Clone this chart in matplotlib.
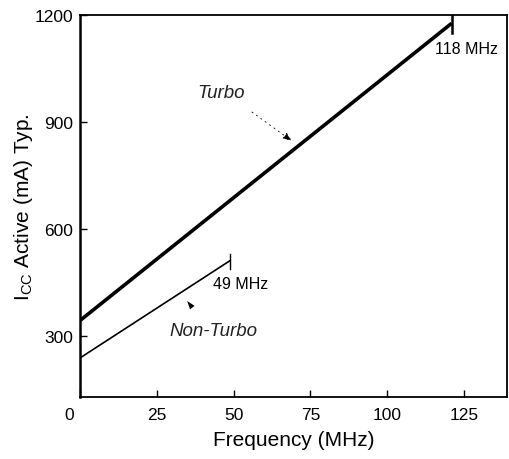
import matplotlib
matplotlib.use('Agg')
import matplotlib.pyplot as plt
from matplotlib.transforms import ScaledTranslation

plt.rcParams['font.family'] = ['Liberation Sans', 'DejaVu Sans']

# data
turbo_freq = [0, 121]
turbo_icc = [343, 1177]
nonturbo_freq = [0, 49]
nonturbo_icc = [238, 512]
x_ticks = [0, 25, 50, 75, 100, 125]
y_ticks = [300, 600, 900, 1200]

fig = plt.figure(figsize=(5.09, 4.6), dpi=100)
ax = fig.add_axes([0.157, 0.135, 0.839, 0.83])

ax.plot(turbo_freq, turbo_icc, color='black', lw=2.6, solid_capstyle='butt')
ax.plot(nonturbo_freq, nonturbo_icc, color='black', lw=1.2, solid_capstyle='butt')

# end markers
ax.plot([turbo_freq[-1]] * 2, [1200, 1150], color='black', lw=1.8)
ax.plot([nonturbo_freq[-1]] * 2, [530, 488], color='black', lw=1.0)

ax.text(115.6, 1105, '118 MHz', fontsize=11.5, ha='left', va='center')
ax.text(43.3, 446, '49 MHz', fontsize=11.5, ha='left', va='center')

ax.text(46, 984, 'Turbo', fontsize=13.5, style='italic', ha='center', va='center',
        color='#222222')
ax.text(43.3, 314, 'Non-Turbo', fontsize=13.5, style='italic', ha='center', va='center',
        color='#222222')

ax.annotate('', xy=(69, 847), xytext=(56, 928),
            arrowprops=dict(arrowstyle='-|>,head_length=0.45,head_width=0.18',
                            color='black', lw=0.6,
                            linestyle=(0, (1.5, 5)), mutation_scale=12,
                            shrinkA=0, shrinkB=0))
# lone arrowhead pointing up-left at the non-turbo line (tail hidden)
ax.annotate('', xy=(34.9, 398), xytext=(38.9, 354),
            arrowprops=dict(arrowstyle='-|>,head_length=0.5,head_width=0.17',
                            facecolor='black', edgecolor='none', lw=0,
                            mutation_scale=12, shrinkA=0, shrinkB=0))

ax.set_xlim(0, 139)
ax.set_ylim(129, 1200)
ax.set_xticks(x_ticks)
ax.set_yticks(y_ticks)
ax.tick_params(direction='in', length=5, width=1, labelsize=12.5)
ax.tick_params(axis='x', pad=7)
ax.tick_params(axis='y', pad=5)
for s in ax.spines.values():
    s.set_linewidth(1.3)
ax.spines['left'].set_linewidth(1.8)

# the "0" label sits a little left of its tick in the original
lab0 = ax.get_xticklabels()[0]
lab0.set_transform(lab0.get_transform() + ScaledTranslation(-0.11, 0, fig.dpi_scale_trans))

ax.set_xlabel('Frequency (MHz)', fontsize=15, labelpad=6)
ax.set_ylabel('I$_{\\mathregular{CC}}$ Active (mA) Typ.', fontsize=15)
ax.yaxis.set_label_coords(-0.105, 0.5)

fig.savefig('out.png', dpi=100)
